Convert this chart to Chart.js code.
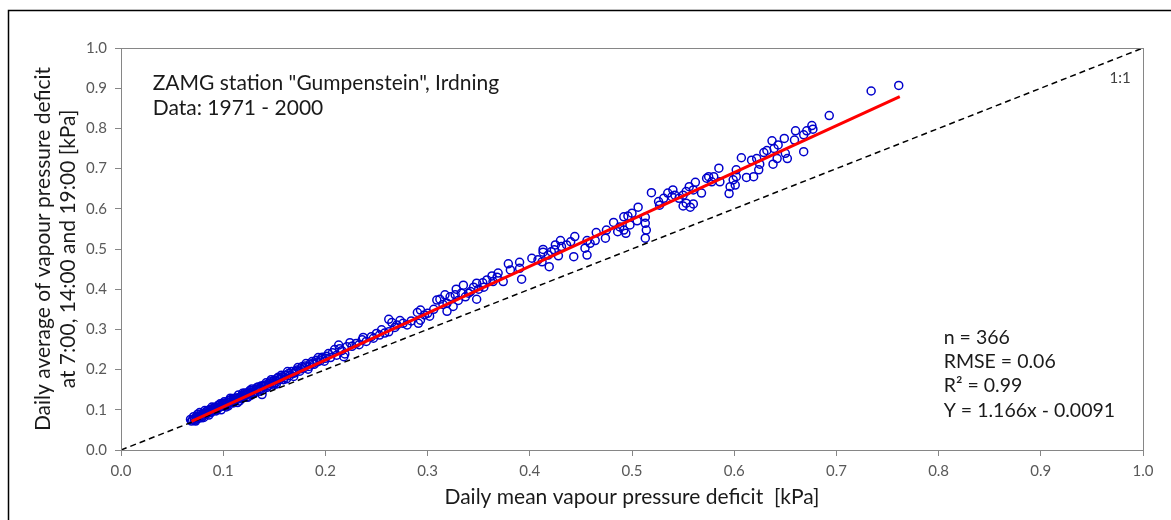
<!DOCTYPE html>
<html>
<head>
<meta charset="utf-8">
<script src="https://cdn.jsdelivr.net/npm/chart.js@4.4.1/dist/chart.umd.min.js"></script>
<style>
  html, body { margin: 0; padding: 0; background: #fff; overflow: hidden; }
  #wrap { width: 1171px; height: 520px; }
</style>
</head>
<body>
<div id="wrap"><canvas id="vpdChart" width="1171" height="520"></canvas></div>
<script>
// observed days: [daily mean VPD, average of 7:00/14:00/19:00 VPD] in kPa
const obsPairs = [
  [0.068,0.076],[0.070,0.075],[0.071,0.083],[0.072,0.074],[0.073,0.072],[0.074,0.082],[0.075,0.089],[0.076,0.079],
  [0.077,0.093],[0.078,0.089],[0.079,0.080],[0.080,0.084],[0.081,0.081],[0.082,0.098],[0.083,0.090],[0.084,0.092],
  [0.085,0.098],[0.086,0.087],[0.087,0.097],[0.088,0.093],[0.089,0.107],[0.090,0.097],[0.091,0.106],[0.092,0.105],
  [0.093,0.097],[0.094,0.101],[0.095,0.111],[0.096,0.106],[0.097,0.115],[0.098,0.100],[0.099,0.113],[0.100,0.112],
  [0.101,0.120],[0.102,0.110],[0.103,0.107],[0.104,0.119],[0.105,0.110],[0.106,0.124],[0.107,0.129],[0.108,0.121],
  [0.109,0.119],[0.110,0.117],[0.111,0.129],[0.112,0.128],[0.113,0.125],[0.114,0.118],[0.115,0.137],[0.116,0.122],
  [0.117,0.131],[0.118,0.135],[0.119,0.141],[0.120,0.132],[0.121,0.142],[0.122,0.136],[0.123,0.132],[0.124,0.131],
  [0.125,0.144],[0.126,0.148],[0.127,0.142],[0.128,0.152],[0.129,0.142],[0.130,0.140],[0.132,0.151],[0.133,0.150],
  [0.134,0.157],[0.135,0.149],[0.136,0.146],[0.137,0.159],[0.138,0.138],[0.139,0.160],[0.140,0.158],[0.142,0.167],
  [0.143,0.156],[0.144,0.160],[0.145,0.166],[0.147,0.175],[0.148,0.166],[0.149,0.162],[0.150,0.174],[0.152,0.164],
  [0.153,0.179],[0.155,0.175],[0.156,0.179],[0.157,0.186],[0.159,0.175],[0.161,0.186],[0.162,0.177],[0.163,0.195],
  [0.165,0.185],[0.167,0.195],[0.169,0.183],[0.170,0.192],[0.171,0.196],[0.173,0.205],[0.175,0.196],[0.177,0.207],
  [0.179,0.204],[0.181,0.215],[0.183,0.201],[0.185,0.214],[0.187,0.220],[0.189,0.213],[0.191,0.223],[0.193,0.230],
  [0.195,0.222],[0.197,0.231],[0.199,0.221],[0.201,0.233],[0.203,0.240],[0.205,0.230],[0.207,0.242],
  [0.069,0.072],[0.072,0.079],[0.074,0.077],[0.076,0.084],[0.078,0.083],[0.080,0.090],[0.081,0.087],[0.083,0.095],
  [0.085,0.091],[0.087,0.101],[0.088,0.098],[0.090,0.102],[0.092,0.099],[0.094,0.107],[0.096,0.112],[0.098,0.108],
  [0.100,0.116],[0.102,0.114],[0.104,0.113],[0.106,0.118],[0.108,0.126],[0.110,0.123],[0.112,0.122],[0.114,0.130],
  [0.116,0.129],[0.118,0.128],[0.120,0.137],[0.122,0.140],[0.124,0.139],[0.127,0.136],[0.129,0.148],[0.131,0.144],
  [0.133,0.155],[0.136,0.153],[0.139,0.150],[0.141,0.162],[0.144,0.164],[0.146,0.170],[0.149,0.171],[0.151,0.167],
  [0.154,0.181],[0.158,0.182],[0.160,0.180],[0.164,0.190],[0.168,0.190],[0.172,0.199],[0.176,0.202],[0.180,0.209],
  [0.184,0.208],[0.188,0.216],[0.192,0.219],[0.196,0.227],[0.200,0.228],
  [0.209,0.250],[0.211,0.236],[0.213,0.261],[0.214,0.252],[0.216,0.247],[0.218,0.232],[0.219,0.239],[0.221,0.257],
  [0.224,0.267],[0.226,0.258],[0.230,0.265],[0.233,0.262],[0.236,0.274],[0.237,0.280],[0.240,0.270],[0.245,0.282],
  [0.247,0.278],[0.250,0.290],[0.253,0.286],[0.255,0.299],[0.258,0.291],[0.262,0.294],[0.262,0.325],[0.265,0.317],
  [0.268,0.305],[0.270,0.311],[0.273,0.322],[0.276,0.315],[0.280,0.311],[0.284,0.321],[0.290,0.342],[0.291,0.315],
  [0.293,0.323],[0.293,0.348],[0.297,0.336],[0.300,0.340],[0.302,0.333],[0.306,0.350],[0.309,0.373],[0.312,0.375],
  [0.315,0.362],[0.317,0.386],[0.319,0.365],[0.319,0.345],[0.322,0.381],[0.325,0.357],[0.327,0.386],[0.328,0.400],
  [0.330,0.372],[0.333,0.390],[0.335,0.410],[0.337,0.381],[0.340,0.390],[0.342,0.394],[0.345,0.405],[0.348,0.415],
  [0.348,0.375],[0.350,0.400],[0.354,0.416],[0.355,0.405],[0.358,0.423],[0.363,0.433],[0.364,0.419],[0.368,0.430],
  [0.369,0.440],[0.374,0.419],[0.379,0.463],[0.381,0.448],[0.390,0.452],[0.390,0.467],[0.392,0.425],[0.402,0.477],
  [0.408,0.473],[0.412,0.468],[0.413,0.499],[0.413,0.492],[0.418,0.485],[0.419,0.456],[0.421,0.493],[0.424,0.498],
  [0.425,0.510],[0.428,0.483],[0.430,0.521],[0.431,0.506],[0.436,0.510],[0.440,0.518],[0.443,0.481],[0.444,0.531],
  [0.454,0.502],[0.456,0.485],[0.456,0.521],[0.459,0.514],[0.464,0.521],[0.465,0.541],[0.474,0.527],[0.475,0.547],
  [0.482,0.566],[0.486,0.543],[0.488,0.555],[0.492,0.547],[0.492,0.580],[0.494,0.539],[0.496,0.582],[0.498,0.560],
  [0.500,0.589],[0.505,0.570],[0.506,0.604],[0.513,0.579],[0.513,0.564],[0.514,0.547],[0.513,0.527],[0.519,0.640],
  [0.526,0.618],[0.527,0.609],[0.531,0.626],[0.535,0.639],[0.539,0.630],[0.540,0.647],[0.542,0.634],[0.546,0.626],
  [0.550,0.634],[0.550,0.607],[0.553,0.643],[0.553,0.614],[0.556,0.655],[0.557,0.604],[0.560,0.647],[0.560,0.612],
  [0.562,0.666],[0.568,0.639],[0.573,0.676],[0.575,0.680],[0.578,0.667],[0.580,0.680],[0.585,0.701],[0.586,0.667],
  [0.595,0.638],[0.596,0.655],[0.599,0.672],[0.601,0.659],[0.602,0.697],[0.602,0.680],[0.607,0.727],[0.612,0.678],
  [0.617,0.721],[0.619,0.680],[0.622,0.725],[0.624,0.697],[0.625,0.711],[0.629,0.740],[0.632,0.745],[0.637,0.769],
  [0.638,0.711],[0.639,0.750],[0.642,0.725],[0.643,0.759],[0.649,0.775],[0.650,0.738],[0.652,0.725],[0.659,0.771],
  [0.660,0.794],[0.668,0.784],[0.668,0.742],[0.671,0.794],[0.676,0.807],[0.677,0.798],[0.693,0.832],[0.734,0.893],
  [0.761,0.907]
];

// regression line ends (Y = 1.166x - 0.0091) and the 1:1 line
const fitLine = [[0.069, 0.071], [0.762, 0.879]];
const oneToOne = [[0, 0], [1, 1]];

const headerLines = ['ZAMG station "Gumpenstein", Irdning', 'Data: 1971 - 2000'];
const statLines = ['n = 366', 'RMSE = 0.06', 'R\u00B2 = 0.99', 'Y = 1.166x - 0.0091'];

const FONT = 'Lato, "Open Sans", sans-serif';
const toXY = arr => arr.map(p => ({ x: p[0], y: p[1] }));

// frame, plot box and text notes
const extras = {
    id: 'extras',
    beforeDraw(chart) {
        const { ctx, width, height } = chart;
        ctx.save();
        ctx.fillStyle = '#fff';
        ctx.fillRect(0, 0, width, height);
        ctx.strokeStyle = '#000';
        ctx.lineWidth = 1.5;
        ctx.strokeRect(8.5, 10.5, width + 40, height + 40);
        ctx.restore();
    },
    afterDraw(chart) {
        const { ctx, chartArea: a, scales: { x, y } } = chart;
        ctx.save();
        ctx.strokeStyle = '#868686';
        ctx.lineWidth = 1;
        ctx.strokeRect(a.left + 0.5, a.top + 0.5, a.right - a.left, a.bottom - a.top);

        ctx.fillStyle = '#1a1a1a';
        ctx.textAlign = 'left';
        ctx.textBaseline = 'middle';
        ctx.font = '21px ' + FONT;
        const headY = [0.913, 0.851];
        headerLines.forEach((t, i) => ctx.fillText(t, x.getPixelForValue(0.031), y.getPixelForValue(headY[i])));
        ctx.font = '19.5px ' + FONT;
        const statY = [0.279, 0.219, 0.159, 0.097];
        statLines.forEach((t, i) => ctx.fillText(t, x.getPixelForValue(0.805), y.getPixelForValue(statY[i])));

        ctx.fillStyle = '#404040';
        ctx.font = '15px ' + FONT;
        ctx.textAlign = 'right';
        ctx.fillText('1:1', x.getPixelForValue(0.988), y.getPixelForValue(0.925));
        ctx.restore();
    }
};

function createChart(ctx) {
    return new Chart(ctx, {
        type: 'scatter',
        data: {
            datasets: [
                {
                    label: 'fit',
                    data: toXY(fitLine),
                    showLine: true,
                    borderColor: '#ff0000',
                    borderWidth: 3,
                    pointRadius: 0,
                    order: 0,
                },
                {
                    label: '1:1',
                    data: toXY(oneToOne),
                    showLine: true,
                    borderColor: '#000',
                    borderWidth: 1.5,
                    borderDash: [6, 4],
                    pointRadius: 0,
                    order: 1,
                },
                {
                    label: 'days',
                    data: toXY(obsPairs),
                    pointStyle: 'circle',
                    pointRadius: 4,
                    borderWidth: 1.5,
                    borderColor: '#0000cc',
                    backgroundColor: 'rgba(0,0,0,0)',
                    order: 2,
                },
            ],
        },
        options: {
            responsive: false,
            animation: false,
            layout: { padding: { top: 48, right: 28, left: 0, bottom: 0 } },
            plugins: { legend: { display: false }, tooltip: { enabled: false } },
            scales: {
                x: {
                    type: 'linear',
                    min: 0,
                    max: 1,
                    afterFit: s => { s.height = 70; },
                    ticks: {
                        stepSize: 0.1,
                        padding: 6,
                        color: '#595959',
                        font: { family: FONT, size: 15 },
                        callback: v => v.toFixed(1),
                    },
                    grid: { drawOnChartArea: false, drawTicks: true, tickLength: 6, color: '#868686' },
                    border: { color: '#868686' },
                    title: {
                        display: true,
                        text: 'Daily mean vapour pressure deficit  [kPa]',
                        color: '#1a1a1a',
                        font: { family: FONT, size: 21, lineHeight: 1.19 },
                        padding: { top: 0, bottom: 10.5 },
                    },
                },
                y: {
                    type: 'linear',
                    min: 0,
                    max: 1,
                    afterFit: s => { s.width = 121; },
                    ticks: {
                        stepSize: 0.1,
                        padding: 8,
                        color: '#595959',
                        font: { family: FONT, size: 15 },
                        callback: v => v.toFixed(1),
                    },
                    grid: { drawOnChartArea: false, drawTicks: true, tickLength: 6, color: '#868686' },
                    border: { color: '#868686' },
                    title: {
                        display: true,
                        text: ['Daily average of vapour pressure deficit', 'at 7:00, 14:00 and 19:00 [kPa]'],
                        color: '#1a1a1a',
                        font: { family: FONT, size: 21, lineHeight: 1.19 },
                        padding: { top: 30.5, bottom: 0 },
                    },
                },
            },
        },
        plugins: [extras],
    });
}

document.addEventListener('DOMContentLoaded', () => {
    createChart(document.getElementById('vpdChart').getContext('2d'));
});
</script>
</body>
</html>
